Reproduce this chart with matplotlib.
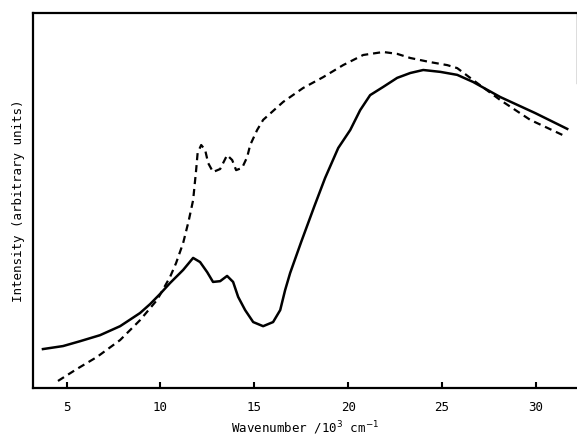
import matplotlib
matplotlib.use('Agg')
from matplotlib import pyplot as plt

# wavenumber (10^3 cm^-1) and intensity (arbitrary units)
solidX = [3.74, 4.81, 5.72, 6.78, 7.85, 8.91, 9.45, 9.98, 10.51, 11.21, 11.74, 12.11,
          12.49, 12.8, 13.18, 13.55, 13.87, 14.14, 14.51, 14.94, 15.47, 16.0, 16.38,
          16.64, 16.91, 17.5, 18.2, 18.77, 19.47, 20.11, 20.64, 21.17, 21.87, 22.61,
          23.31, 24.0, 24.91, 25.81, 26.66, 28.1, 29.97, 31.67]
solidY = [10.4, 11.2, 12.5, 14.1, 16.5, 20.0, 22.4, 25.1, 28.0, 31.5, 34.7, 33.6,
          30.9, 28.3, 28.5, 29.9, 28.3, 24.3, 20.8, 17.6, 16.5, 17.6, 20.8,
          26.1, 30.7, 39.0, 48.5, 56.0, 64.0, 68.8, 74.1, 78.1, 80.3, 82.7,
          84.0, 84.8, 84.3, 83.5, 81.6, 77.6, 73.3, 69.1]

dashX = [4.54, 5.55, 6.62, 7.85, 8.91, 9.82, 10.51, 10.83, 11.21, 11.5, 11.74, 11.9,
         11.98, 12.17, 12.38, 12.54, 12.8, 13.18, 13.55, 13.82, 14.03, 14.35, 14.62,
         14.78, 15.15, 15.47, 16.54, 17.6, 18.67, 19.73, 20.8, 21.87, 22.61, 23.31,
         24.37, 25.28, 25.81, 26.66, 28.1, 29.7, 31.41]
dashY = [1.9, 5.1, 8.3, 12.8, 18.1, 23.5, 29.6, 33.3, 38.7, 44.5, 50.1, 58.1,
         62.7, 64.8, 63.5, 60.0, 57.6, 58.4, 62.1, 60.8, 58.1, 58.7, 61.6,
         64.8, 68.8, 71.5, 76.3, 80.0, 82.9, 86.1, 88.8, 89.6, 89.1, 88.0,
         86.9, 86.1, 85.3, 82.1, 76.8, 71.5, 67.5]

xTicks = [5, 10, 15, 20, 25, 30]

plt.rcParams['font.family'] = ['DejaVu Sans Mono']
fig = plt.figure(figsize=(5.77, 4.4), dpi=100)
ax = fig.add_axes([0.0572, 0.118, 0.9431, 0.8525])

ax.plot(solidX, solidY, color='black', linewidth=1.8, linestyle='-',
        solid_joinstyle='round')
ax.plot(dashX, dashY, color='black', linewidth=1.6, linestyle=(0, (3.2, 2.2)))

ax.set_xlim(3.21, 32.2)
ax.set_ylim(0, 100)
ax.set_xticks(xTicks)
ax.set_yticks([])
ax.tick_params(axis='x', direction='in', length=4, width=1.5, pad=9, labelsize=9)

for s in ['left', 'bottom', 'top']:
    ax.spines[s].set_linewidth(1.6)
ax.spines['right'].set_linewidth(1.0)
ax.spines['right'].set_color('#555555')
ax.spines['right'].set_bounds(81.3, 100)

ax.set_xlabel('Wavenumber /10$^3$ cm$^{-1}$', fontsize=9, labelpad=4)
ax.set_ylabel('Intensity (arbitrary units)', fontsize=9, labelpad=6)

fig.savefig('out.png', dpi=100)
